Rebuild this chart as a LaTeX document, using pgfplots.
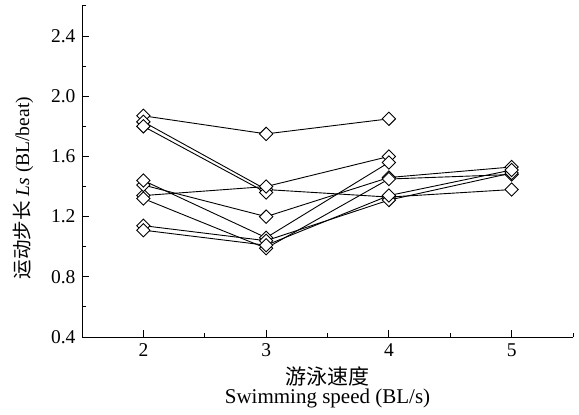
\documentclass[border=0pt]{standalone}
\usepackage{fontspec}
\setmainfont{Liberation Serif}
\newfontfamily\cjk{Noto Sans CJK SC}
\usepackage{pgfplots}
\pgfplotsset{compat=1.18}
\tikzset{myline/.style={black, solid, line width=0.9pt, mark=square*, mark size=4.7pt, mark options={fill=white, draw=black, rotate=45, solid, line width=0.9pt}}}
\begin{document}
\fontsize{19}{21}\selectfont
\begin{tikzpicture}
\begin{axis}[
  name=ax,
  scale only axis,
  width=491pt, height=331pt,
  xmin=1.5, xmax=5.5, ymin=0.4, ymax=2.6,
  axis x line*=bottom, axis y line*=left,
  axis line style={line width=1pt, -},
  xtick={2,3,4,5},
  minor xtick={1.5,2.5,3.5,4.5,5.5},
  ytick={0.4,0.8,1.2,1.6,2.0,2.4},
  minor ytick={0.6,1.0,1.4,1.8,2.2,2.6},
  yticklabel style={/pgf/number format/.cd, fixed, fixed zerofill, precision=1},
  /pgf/number format/assume math mode=true,
  tick align=inside,
  major tick length=7pt, minor tick length=4pt,
  tick style={line width=1pt, black},
  ticklabel style={font=\fontsize{19.5}{21}\selectfont},
  xlabel={\cjk 游泳速度\\Swimming speed (BL/s)},
  xlabel style={align=center, font=\fontsize{21}{19}\selectfont, at={(axis description cs:0.5,-0.07)}, anchor=north},
  ylabel={{\cjk 运动步长} \textit{Ls} (BL/beat)},
  ylabel style={font=\fontsize{19.5}{22}\selectfont, at={(axis description cs:-0.12,0.45)}, anchor=center},
]
\addplot[myline] coordinates {(2,1.87) (3,1.75) (4,1.85)};
\addplot[myline] coordinates {(2,1.83) (3,1.38) (4,1.33) (5,1.38)};
\addplot[myline] coordinates {(2,1.80) (3,1.36)};
\addplot[myline] coordinates {(2,1.34) (3,1.40) (4,1.60)};
\addplot[myline] coordinates {(2,1.41) (3,1.20) (4,1.46) (5,1.53)};
\addplot[myline] coordinates {(2,1.44) (3,1.06) (4,1.56)};
\addplot[myline] coordinates {(2,1.32) (3,0.99) (4,1.45) (5,1.48)};
\addplot[myline] coordinates {(2,1.14) (3,1.04) (4,1.31) (5,1.49)};
\addplot[myline] coordinates {(2,1.11) (3,1.01) (4,1.34) (5,1.51)};
\end{axis}
\pgfresetboundingbox
\path ([shift={(-82pt,-77pt)}]ax.south west) rectangle ([shift={(6pt,6pt)}]ax.north east);
\end{tikzpicture}
\end{document}
